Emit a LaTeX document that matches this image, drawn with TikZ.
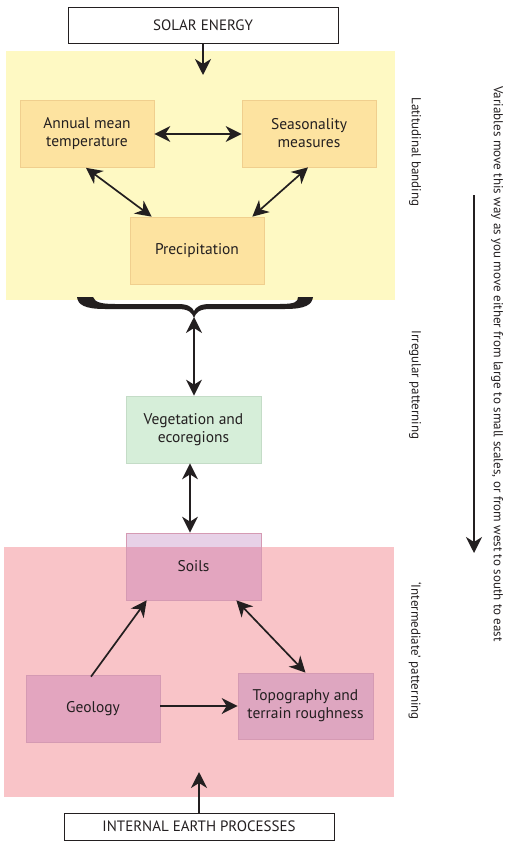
\documentclass[tikz,border=0pt]{standalone}
\usepackage{fontspec}
\setmainfont{PT Sans}
\usetikzlibrary{arrows.meta}
\definecolor{ink}{HTML}{231F20}
\definecolor{yellowreg}{HTML}{FEF9C3}
\definecolor{pinkreg}{HTML}{F9C4C8}
\definecolor{climfill}{HTML}{FDE3A0}
\definecolor{climline}{HTML}{F0CF8E}
\definecolor{vegfill}{HTML}{D6EED9}
\definecolor{vegline}{HTML}{C4DCC7}
\definecolor{earthfill}{HTML}{E3A5BF}
\definecolor{earthline}{HTML}{D59AB3}
\definecolor{topofill}{HTML}{DEA6C0}
\definecolor{lavender}{HTML}{E7D1E7}
\tikzset{
  box/.style={rectangle, minimum width=134pt, minimum height=67pt, inner sep=0pt,
    align=center, text=ink, line width=0.7pt, font=\fontsize{15.5}{18}\selectfont},
  climbox/.style={box, fill=climfill, draw=climline},
  vegbox/.style={box, fill=vegfill, draw=vegline},
  earthbox/.style={box, fill=earthfill, draw=earthline},
  srcbox/.style={rectangle, draw=ink, fill=white, line width=0.9pt, inner sep=0pt,
    minimum width=270pt, text=ink, font=\fontsize{15}{18}\selectfont},
  sidetext/.style={rotate=-90, text=ink, inner sep=0pt, font=\fontsize{13}{15}\selectfont},
  con/.style={line width=1.7pt, draw=ink},
  >={Stealth[length=16pt,width=16pt,inset=5pt]}
}
\begin{document}
\begin{tikzpicture}[x=1pt,y=-1pt]
\useasboundingbox (0,0) rectangle (509,845);
% background regions
\fill[yellowreg] (6,51) rectangle (395,300);
\fill[pinkreg] (4,547) rectangle (394,797);
\coordinate (pinktop) at (4,547);
% source boxes
\node[srcbox, minimum height=36pt] (solar) at (203,25) {SOLAR ENERGY};
\node[srcbox, minimum height=27pt] (internal) at (199,826.5) {INTERNAL EARTH PROCESSES};
% climate boxes
\node[climbox] (annual) at (87,134) {Annual mean\\temperature};
\node[climbox] (season) at (309,133.5) {Seasonality\\measures};
\node[climbox] (precip) at (197,250.5) {Precipitation};
% vegetation
\node[vegbox, minimum width=135pt] (veg) at (193.5,429.5) {Vegetation and\\ecoregions};
% earth boxes
\node[box, minimum width=135pt, fill=lavender, draw=earthline,
  path picture={\fill[earthfill] (path picture bounding box.south west) rectangle (path picture bounding box.east |- pinktop);}]
  (soils) at (193.5,566.5) {Soils};
\node[earthbox] (geology) at (93,708.5) {Geology};
\node[earthbox, fill=topofill, minimum width=135pt, minimum height=66pt] (topo) at (305.5,706) {Topography and\\terrain roughness};
% brace
\fill[ink] (77,297) -- (93,297)
  .. controls (95,302) and (100,304) .. (115,304) -- (178,304)
  .. controls (188,304) and (192,307) .. (194,311)
  .. controls (196,307) and (200,304) .. (210,304) -- (280,304)
  .. controls (295,304) and (298,302) .. (298,297) -- (313,297)
  .. controls (312,305) and (305,309) .. (285,309) -- (210,309)
  .. controls (200,309) and (196,312) .. (194,318)
  .. controls (192,312) and (188,309) .. (178,309) -- (105,309)
  .. controls (85,309) and (78,305) .. (77,297) -- cycle;
\coordinate (bracetip) at (194,317);
% free connector ends
\coordinate (solarend) at (203,75);
\coordinate (internalend) at (199,772);
\coordinate (dirtop) at (474,195);
\coordinate (dirbot) at (474,553);
% connectors
\draw[con,->] (solar.south) -- (solarend);
\draw[con,<->] (annual.east) -- (season.west |- annual.east);
\draw[con,<->] ([xshift=-1pt]annual.south) -- ([xshift=22pt]precip.north west);
\draw[con,<->] ([xshift=-1pt]season.south) -- ([xshift=-12pt]precip.north east);
\draw[con,<->] (bracetip) -- (bracetip |- veg.north);
\draw[con,<->] ([xshift=-3.5pt]veg.south) -- ([xshift=-3.5pt]soils.north);
\draw[con,->] ([xshift=-2pt,yshift=-2pt]geology.north) -- ([xshift=21pt]soils.south west);
\draw[con,<->] ([xshift=-25pt]soils.south east) -- (topo.north);
\draw[con,->] (topo.west -| geology.east) -- (topo.west);
\draw[con,->] (internal.north) -- (internalend);
\draw[con,->] (dirtop) -- (dirbot);
% side labels
\node[sidetext] (lat) at (415,152) {Latitudinal banding};
\node[sidetext] (irr) at (415,385) {Irregular patterning};
\node[sidetext] (inter) at (415,651) {‘Intermediate’ patterning};
\node[sidetext] (note) at (497,364) {Variables move this way as you move either from large to small scales, or from west to south to east};
\end{tikzpicture}
\end{document}
